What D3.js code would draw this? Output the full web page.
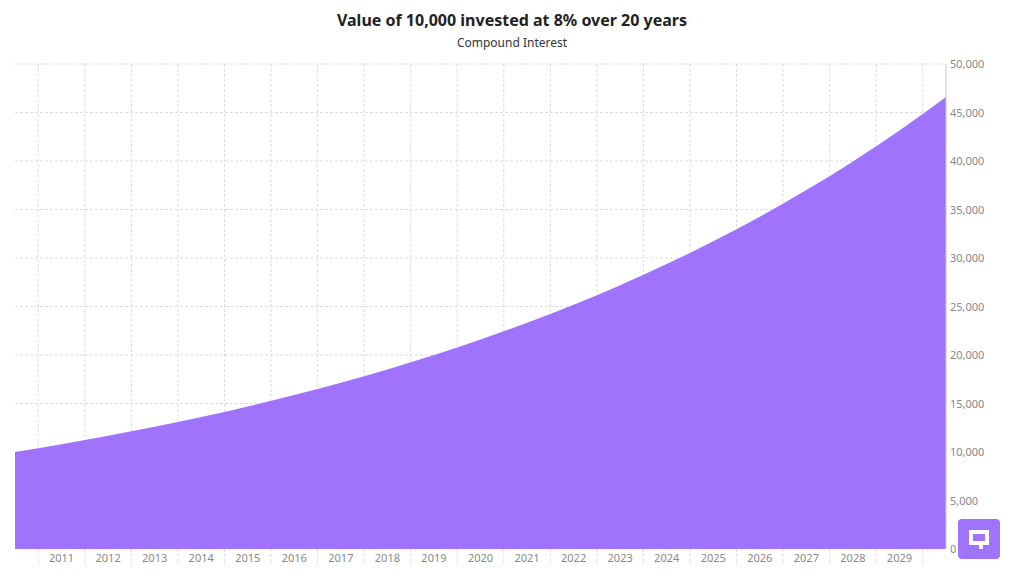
<!DOCTYPE html>
<html>
<head>
<meta charset="utf-8">
<script src="https://cdn.jsdelivr.net/npm/d3@7"></script>
<style>
  body { margin: 0; background: #fff; font-family: "Noto Sans", sans-serif; }
  text { font-family: "Noto Sans", sans-serif; }
</style>
</head>
<body>
<svg id="chart" width="1024" height="585"></svg>
<script>
// data: value of 10,000 at 8% compounded yearly
var years = [2010, 2011, 2012, 2013, 2014, 2015, 2016, 2017, 2018, 2019, 2020,
             2021, 2022, 2023, 2024, 2025, 2026, 2027, 2028, 2029, 2030];
var values = [10000, 10800, 11664, 12597, 13605, 14693, 15869, 17138, 18509, 19990, 21589,
              23316, 25182, 27196, 29372, 31722, 34259, 37000, 39960, 43157, 46610];
var yTicks = [0, 5000, 10000, 15000, 20000, 25000, 30000, 35000, 40000, 45000, 50000];
var xLabels = years.slice(1, -1);

var svg = d3.select('#chart');
var plotL = 15, plotR = 946, plotT = 64, plotB = 549;

var x = d3.scaleLinear().domain([2010, 2030]).range([plotL, plotR]);
var y = d3.scaleLinear().domain([0, 50000]).range([plotB, plotT]);
var step = x(2011) - x(2010);

// horizontal grid
svg.append('g').selectAll('line').data(yTicks.slice(1)).join('line')
    .attr('x1', plotL).attr('x2', plotR)
    .attr('y1', function (d) { return y(d); }).attr('y2', function (d) { return y(d); })
    .attr('stroke', '#dcdcdc').attr('stroke-dasharray', '3,2');

// vertical grid between years
svg.append('g').selectAll('line').data(years.slice(0, -1)).join('line')
    .attr('x1', function (d) { return x(d) + step / 2; })
    .attr('x2', function (d) { return x(d) + step / 2; })
    .attr('y1', plotT).attr('y2', 565)
    .attr('stroke', '#dcdcdc').attr('stroke-dasharray', '3,2');

var area = d3.area()
    .x(function (d, i) { return x(years[i]); })
    .y0(plotB)
    .y1(function (d) { return y(d); })
    .curve(d3.curveMonotoneX);

svg.append('path').datum(values).attr('d', area).attr('fill', '#a073fc');

// right axis
svg.append('line').attr('x1', plotR).attr('x2', plotR).attr('y1', plotT).attr('y2', plotB)
    .attr('stroke', '#c8c8c8');
svg.append('g').selectAll('text').data(yTicks).join('text')
    .attr('x', plotR + 4).attr('y', function (d) { return y(d) + 4; })
    .attr('font-size', 11).attr('fill', '#888')
    .text(function (d) { return d3.format(',')(d); });

// x labels
svg.append('g').selectAll('text').data(xLabels).join('text')
    .attr('x', function (d) { return x(d); }).attr('y', 562)
    .attr('text-anchor', 'middle').attr('font-size', 11).attr('fill', '#888')
    .text(function (d) { return d; });

// titles
svg.append('text').attr('x', 512).attr('y', 26).attr('text-anchor', 'middle')
    .attr('font-size', 16).attr('font-weight', 'bold').attr('fill', '#222')
    .text('Value of 10,000 invested at 8% over 20 years');
svg.append('text').attr('x', 512).attr('y', 47).attr('text-anchor', 'middle')
    .attr('font-size', 12).attr('fill', '#333').text('Compound Interest');

// logo
var logo = svg.append('g').attr('transform', 'translate(958,519)');
logo.append('rect').attr('width', 42).attr('height', 40).attr('rx', 4).attr('fill', '#a073fc');
logo.append('path').attr('d', 'M11 11h20v15h-6v4h-4v-4h-10z M15 15v7h12v-7z')
    .attr('fill', '#fff').attr('fill-rule', 'evenodd');
</script>
</body>
</html>
